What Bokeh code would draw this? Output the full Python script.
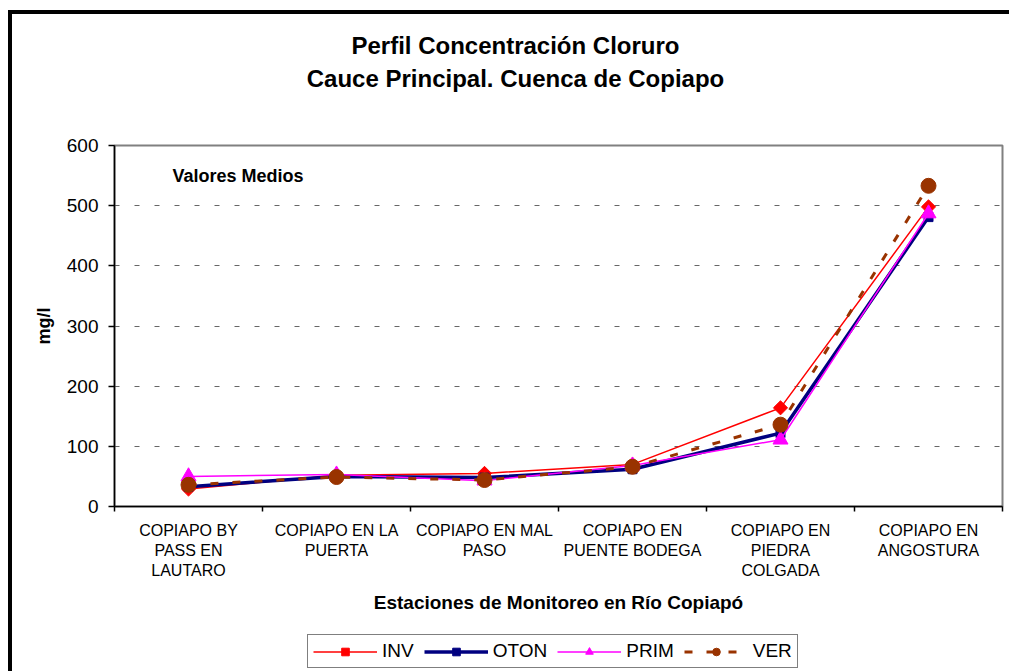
from math import pi
from bokeh.plotting import figure
from bokeh.layouts import column
from bokeh.models import Range1d, FixedTicker, Label, Legend, LegendItem
from bokeh.embed import file_html
from bokeh.resources import INLINE

# ---------------- data ----------------
categories = [
    "COPIAPO BY PASS EN LAUTARO",
    "COPIAPO EN LA PUERTA",
    "COPIAPO EN MAL PASO",
    "COPIAPO EN PUENTE BODEGA",
    "COPIAPO EN PIEDRA COLGADA",
    "COPIAPO EN ANGOSTURA",
]
tick_labels = [
    "COPIAPO BY\nPASS EN\nLAUTARO",
    "COPIAPO EN LA\nPUERTA",
    "COPIAPO EN MAL\nPASO",
    "COPIAPO EN\nPUENTE BODEGA",
    "COPIAPO EN\nPIEDRA\nCOLGADA",
    "COPIAPO EN\nANGOSTURA",
]
series_names = ["INV", "OTON", "PRIM", "VER"]
inv = [29, 52, 55, 70, 164, 498]
oton = [33, 50, 48, 62, 122, 481]
prim = [50, 53, 43, 68, 111, 487]
ver = [36, 49, 44, 66, 136, 533]
y_ticks = [0, 100, 200, 300, 400, 500, 600]
grid_ticks = [100, 200, 300, 400, 500]

FONT = "Liberation Sans"

# ---------------- layout (page px) ----------------
OX, OY = 12, 14                 # content origin inside the outer border
W = 1009 - OX
Y_TOP_END = 110                 # title strip: OY .. Y_TOP_END
Y_MAIN_END = 625                # main chart: Y_TOP_END .. Y_MAIN_END
Y_END = 671                     # legend strip: Y_MAIN_END .. Y_END
FL, FR, FT, FB = 114, 1002, 145, 506  # plot frame edges
n = len(categories)
YMAX = 600

styles = [
    dict(color="#FF0000", lw=1.5, dash="solid", marker="square", angle=pi / 4, size=10),
    dict(color="#000080", lw=3.5, dash="solid", marker="square", angle=0, size=9),
    dict(color="#FF00FF", lw=1.5, dash="solid", marker="triangle", angle=0, size=15),
    dict(color="#993300", lw=3, dash="8 14", marker="circle", angle=0, size=15),
]
values = [inv, oton, prim, ver]
xs = [i + 0.5 for i in range(n)]


def strip(y0, y1):
    # the column aligns the frames of its plots horizontally (FL..FR),
    # so page pixels map 1:1 to data units here
    f = figure(width=W, height=y1 - y0,
               x_range=Range1d(FL, FR), y_range=Range1d(y1, y0),
               output_backend="svg", toolbar_location=None,
               x_axis_location=None, y_axis_location=None,
               min_border_left=FL - OX, min_border_right=1009 - FR,
               min_border_top=0, min_border_bottom=0,
               background_fill_color="white", border_fill_color="white")
    f.grid.visible = False
    f.outline_line_color = None
    return f


# ---------------- title strip ----------------
pt = strip(OY, Y_TOP_END)
for txt, yy in [("Perfil Concentración Cloruro", 45), ("Cauce Principal. Cuenca de Copiapo", 78)]:
    pt.add_layout(Label(x=515, y=yy, text=txt, text_align="center", text_baseline="middle",
                        text_font=FONT, text_font_size="24px", text_font_style="bold",
                        text_color="black"))

# ---------------- main chart ----------------
p = figure(
    width=W, height=Y_MAIN_END - Y_TOP_END,
    x_range=Range1d(0, n), y_range=Range1d(0, YMAX),
    output_backend="svg", toolbar_location=None,
    min_border_left=FL - OX, min_border_right=1009 - FR,
    min_border_top=FT - Y_TOP_END, min_border_bottom=Y_MAIN_END - FB,
    background_fill_color="white", border_fill_color="white",
)
p.outline_line_color = "#808080"
p.outline_line_width = 2

for vals, st in zip(values, styles):
    p.line(xs, vals, line_color=st["color"], line_width=st["lw"], line_dash=st["dash"])
    p.scatter(xs, vals, marker=st["marker"], angle=st["angle"], size=st["size"],
              fill_color=st["color"], line_color=st["color"])

xa = p.xaxis[0]
xa.ticker = FixedTicker(ticks=xs, minor_ticks=list(range(n + 1)))
xa.major_label_overrides = {x: lab for x, lab in zip(xs, tick_labels)}
xa.major_tick_line_color = None
xa.major_tick_out = 0
xa.major_tick_in = 0
xa.minor_tick_out = 5
xa.minor_tick_in = 0
xa.minor_tick_line_color = "black"
xa.minor_tick_line_width = 1.5
xa.axis_line_color = "black"
xa.axis_line_width = 1.5
xa.major_label_standoff = 10
xa.major_label_text_font = FONT
xa.major_label_text_font_size = "16px"
xa.major_label_text_color = "black"
xa.major_label_text_line_height = 1.2
xa.axis_label = "Estaciones de Monitoreo en Río Copiapó"
xa.axis_label_text_font = FONT
xa.axis_label_text_font_size = "19px"
xa.axis_label_text_font_style = "bold"
xa.axis_label_text_color = "black"
xa.axis_label_standoff = 10

ya = p.yaxis[0]
ya.ticker = FixedTicker(ticks=y_ticks, minor_ticks=[])
ya.major_tick_out = 6
ya.major_tick_in = 0
ya.major_tick_line_color = "black"
ya.major_tick_line_width = 1.5
ya.axis_line_color = "black"
ya.axis_line_width = 1.5
ya.major_label_standoff = 10
ya.major_label_text_font = FONT
ya.major_label_text_font_size = "19px"
ya.major_label_text_color = "black"
ya.axis_label = "mg/l"
ya.axis_label_text_font = FONT
ya.axis_label_text_font_size = "18px"
ya.axis_label_text_font_style = "bold"
ya.axis_label_text_color = "black"
ya.axis_label_standoff = 10

p.xgrid.visible = False
p.ygrid.ticker = FixedTicker(ticks=grid_ticks)
p.ygrid.grid_line_color = "#666666"
p.ygrid.grid_line_width = 1
p.ygrid.grid_line_dash = "5 15"

p.add_layout(Label(x=(172 - FL) * n / (FR - FL), y=(FB - 175) * YMAX / (FB - FT),
                   text="Valores Medios", text_align="left", text_baseline="middle",
                   text_font=FONT, text_font_size="18px", text_font_style="bold",
                   text_color="black"))

# ---------------- legend strip ----------------
pl = strip(Y_MAIN_END, Y_END)
items = []
for name, vals, st in zip(series_names, values, styles):
    # same series drawn in this strip (outside its visible range) to feed the legend
    rl = pl.line(xs, vals, line_color=st["color"], line_width=st["lw"], line_dash=st["dash"])
    rm = pl.scatter(xs, vals, marker=st["marker"], angle=st["angle"], size=st["size"],
                    fill_color=st["color"], line_color=st["color"])
    items.append(LegendItem(label=name, renderers=[rl, rm]))

legend = Legend(
    items=items, orientation="horizontal", location=(307 - FL, Y_END - 668),
    border_line_color="black", border_line_width=1,
    background_fill_color="white", background_fill_alpha=1,
    label_text_font=FONT, label_text_font_size="19px", label_text_color="black",
    glyph_width=64, glyph_height=19, label_standoff=5, spacing=10,
    padding=5, margin=0,
)
pl.add_layout(legend)

layout = column(pt, p, pl, spacing=0)
layout.styles = {"margin-left": "8px", "margin-top": "10px",
                 "border-left": "4px solid black", "border-top": "4px solid black"}

open("out.html", "w").write(file_html(layout, INLINE))
